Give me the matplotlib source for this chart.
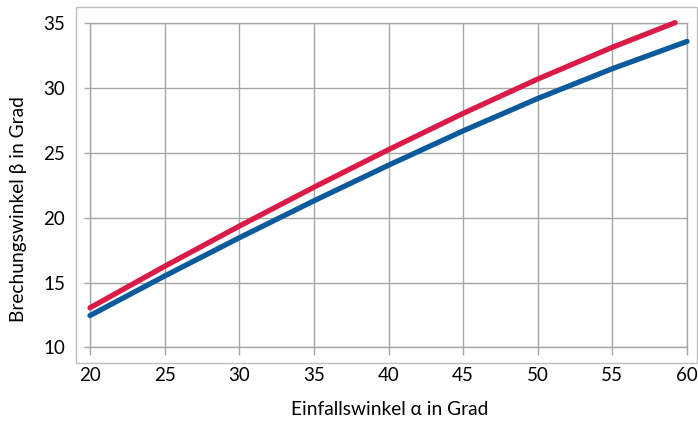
import numpy as np
import matplotlib
matplotlib.use('Agg')
import matplotlib.pyplot as plt
from matplotlib.patches import Rectangle

# Einfallswinkel (alpha) und Brechungswinkel (beta)
alphaRed = [20, 25, 30, 35, 40, 45, 50, 55, 59.2]
betaRed = [13.05, 16.25, 19.35, 22.35, 25.25, 28.05, 30.7, 33.15, 35.05]
alphaBlue = [20, 25, 30, 35, 40, 45, 50, 55, 60]
betaBlue = [12.45, 15.5, 18.45, 21.3, 24.05, 26.7, 29.2, 31.5, 33.6]

xTicks = [20, 25, 30, 35, 40, 45, 50, 55, 60]
yTicks = [10, 15, 20, 25, 30, 35]

plt.rcParams['font.family'] = ['Lato', 'DejaVu Sans']
gridColor = '#A6A6A6'

fig = plt.figure(figsize=(6.98, 4.23), dpi=100)

# outer plot-area frame (Excel style)
frame = Rectangle((76 / 698, 60 / 423), 621 / 698, 356 / 423, transform=fig.transFigure,
                  fill=False, edgecolor='#BFBFBF', linewidth=1.0)
fig.patches.append(frame)

ax = fig.add_axes([90 / 698, (423 - 347.3) / 423, 597 / 698, 324 / 423])
ax.plot(alphaRed, betaRed, color='#DA1A47', linewidth=3.8, solid_capstyle='round',
        solid_joinstyle='round', zorder=3, clip_on=False)
ax.plot(alphaBlue, betaBlue, color='#0B5A9C', linewidth=3.8, solid_capstyle='round',
        solid_joinstyle='round', zorder=3, clip_on=False)

ax.set_xlim(20, 60)
ax.set_ylim(10, 35)
ax.set_xticks(xTicks)
ax.set_yticks(yTicks)
ax.grid(True, color=gridColor, linewidth=1.0)
for s in ax.spines.values():
    s.set_color(gridColor)
    s.set_linewidth(1.0)
ax.tick_params(axis='x', length=6, width=1.0, color=gridColor, pad=8, labelsize=13.5)
ax.tick_params(axis='y', length=4, width=1.0, color=gridColor, pad=14, labelsize=13.5)

ax.set_xlabel('Einfallswinkel α in Grad', fontsize=13.8)
ax.set_ylabel('Brechungswinkel β in Grad', fontsize=13.8)
ax.xaxis.set_label_coords(0.502, -0.1935)
ax.yaxis.set_label_coords(-0.119, 0.428)
ax.xaxis.label.set_va('center')
ax.yaxis.label.set_va('center')

fig.savefig('out.png', dpi=100)
